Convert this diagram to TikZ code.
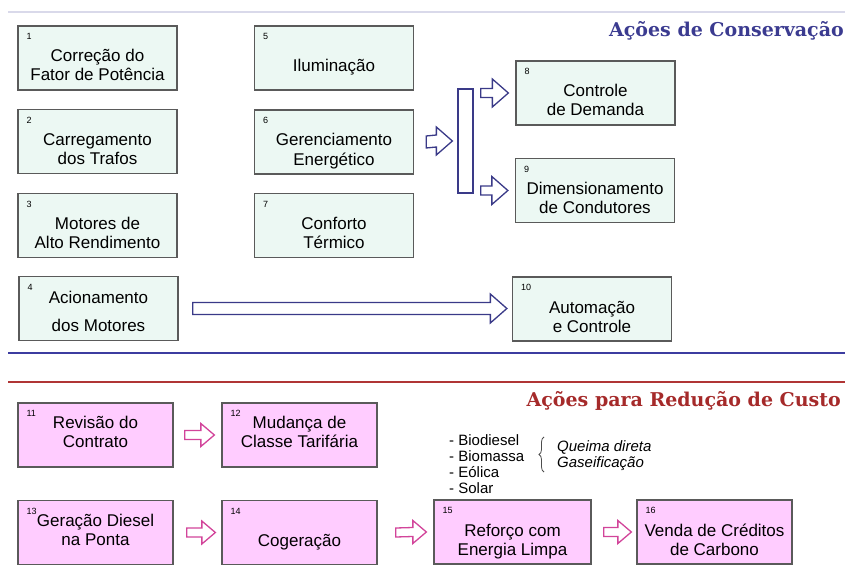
\documentclass[tikz,border=0pt]{standalone}
\usepackage{fontspec}
\setmainfont{Liberation Sans}
\newfontfamily\headfont{DejaVu Serif}
\usetikzlibrary{calc,positioning,decorations.pathreplacing}
\definecolor{mint}{HTML}{ECF8F3}
\definecolor{rosa}{HTML}{FFCCFF}
\definecolor{navy}{HTML}{3A3A88}
\definecolor{pinkline}{HTML}{D2449A}
\definecolor{boxline}{HTML}{5A5A5A}
\definecolor{bluetitle}{HTML}{3B3B90}
\definecolor{redtitle}{HTML}{A52A2A}
\definecolor{blueline}{HTML}{3C3CA0}
\definecolor{redline}{HTML}{B03535}
\definecolor{toprule}{HTML}{D9D9EA}

% hollow block arrow: style, from, gap, to, gap, half shaft, half head
\newcommand{\hollowarrow}[7]{%
  \draw[#1] ($(#2)+(#3,-#6)$) -- ($(#4)+(-#5-#7-2,-#6)$) -- ($(#4)+(-#5-#7-2,-#7)$)
    -- ($(#4)+(-#5,0)$) -- ($(#4)+(-#5-#7-2,#7)$) -- ($(#4)+(-#5-#7-2,#6)$)
    -- ($(#2)+(#3,#6)$) -- cycle;}

\begin{document}
\begin{tikzpicture}[x=1pt, y=-1pt,
  box/.style={rectangle, draw=boxline, line width=1.3pt, minimum height=64pt, inner sep=2pt,
    align=center, font=\fontsize{17}{19}\selectfont, text height=48pt, text depth=2pt},
  conbox/.style={box, fill=mint, minimum width=159pt},
  custbox/.style={box, fill=rosa, minimum width=155pt},
  hightext/.style={text height=38pt, text depth=13pt},
  oneline/.style={text height=38pt, text depth=10pt},
  num/.style={anchor=north west, inner sep=0pt, xshift=9pt, yshift=-8pt, font=\fontsize{9}{9}\selectfont},
  bluearrow/.style={draw=navy, fill=white, line width=1.3pt},
  pinkarrow/.style={draw=pinkline, fill=white, line width=1.3pt}]
  \useasboundingbox (0,0) rectangle (845,580);

  % rules and headings
  \draw[toprule, line width=1.2pt] (8,12) -- (845,12);
  \draw[blueline, line width=2.2pt] (8,353) -- (845,353);
  \draw[redline, line width=2.2pt] (8,382) -- (845,382);
  \node[anchor=base east, inner sep=0pt, text=bluetitle, font=\headfont\bfseries\fontsize{19}{19}\selectfont]
    (title1) at (844,37) {Ações de Conservação};
  \node[anchor=base east, inner sep=0pt, text=redtitle, font=\headfont\bfseries\fontsize{19}{19}\selectfont]
    (title2) at (841,406) {Ações para Redução de Custo};

  % conservation actions
  \node[conbox] (c1) at (97.5,58) {Correção do\\Fator de Potência};
  \node[conbox] (c2) at (97.5,141.5) {Carregamento\\dos Trafos};
  \node[conbox] (c3) at (97.5,225.5) {Motores de\\Alto Rendimento};
  \node[conbox, text height=47pt, text depth=2pt] (c4) at (98.5,308.5) {Acionamento\\[9pt]dos Motores};
  \node[conbox, oneline] (c5) at (334,58) {Iluminação};
  \node[conbox] (c6) at (334,142) {Gerenciamento\\Energético};
  \node[conbox] (c7) at (334,225.5) {Conforto\\Térmico};
  \node[conbox] (c8) at (595.5,93) {Controle\\de Demanda};
  \node[conbox] (c9) at (595,190.5) {Dimensionamento\\de Condutores};
  \node[conbox] (c10) at (592,309) {Automação\\e Controle};
  \node[draw=navy, line width=1.3pt, minimum width=15pt, minimum height=104pt, inner sep=0pt]
    (split) at (465.5,141) {};

  % cost reduction actions
  \node[custbox, hightext] (c11) at (95.5,435) {Revisão do\\Contrato};
  \node[custbox, hightext] (c12) at (299.5,435) {Mudança de\\Classe Tarifária};
  \node[custbox, hightext] (c13) at (95.5,532.5) {Geração Diesel\\na Ponta};
  \node[custbox, oneline] (c14) at (299.5,532.5) {Cogeração};
  \node[custbox, minimum width=157pt] (c15) at (512.5,532) {Reforço com\\Energia Limpa};
  \node[custbox] (c16) at (714.5,532) {Venda de Créditos\\de Carbono};

  \foreach \k in {1,...,16}
    \node[num] (n\k) at (c\k.north west) {\k};

  % clean energy sources
  \node[anchor=base west, align=left, inner sep=0pt, font=\fontsize{15}{16}\selectfont]
    (fuels) at (449,493) {- Biodiesel\\- Biomassa\\- Eólica\\- Solar};
  \node[anchor=base west, align=left, inner sep=0pt, font=\fontsize{15}{15.5}\selectfont\itshape]
    (burn) at (557,467) {Queima direta\\Gaseificação};
  \draw[decorate, decoration={brace, amplitude=5pt}, line width=0.8pt, black!70] (544,472) -- (544,437);

  % arrows
  \hollowarrow{bluearrow}{c6.east}{12}{split.west}{5}{6}{14}
  \hollowarrow{bluearrow}{split.east |- c8.west}{7}{c8.west}{7}{4.5}{14}
  \hollowarrow{bluearrow}{split.east |- c9.west}{7}{c9.west}{7}{4.5}{14}
  \hollowarrow{bluearrow}{c4.east}{14}{c4.east -| c10.west}{5}{6}{14.5}
  \hollowarrow{pinkarrow}{c11.east}{11}{c12.west}{7}{4.5}{11.5}
  \hollowarrow{pinkarrow}{c13.east}{13}{c14.west}{6}{4.5}{11.5}
  \hollowarrow{pinkarrow}{c14.east}{18}{c15.west}{7}{4.5}{11.5}
  \hollowarrow{pinkarrow}{c15.east}{12}{c16.west}{5}{4.5}{11.5}
\end{tikzpicture}
\end{document}
